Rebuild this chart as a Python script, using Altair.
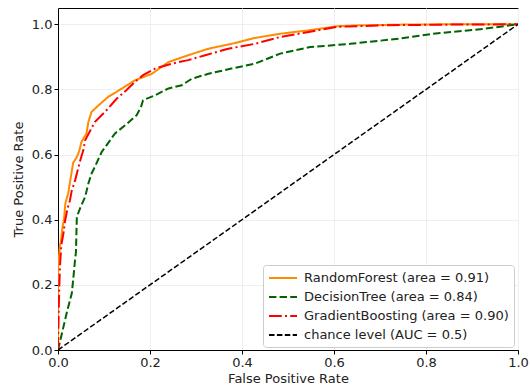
import altair as alt
import pandas as pd

# ---- data ----
rf_fpr = [0.0, 0.0, 0.004, 0.006, 0.010, 0.013, 0.016, 0.022, 0.026, 0.033, 0.040, 0.046, 0.051, 0.062, 0.066, 0.073, 0.088, 0.109, 0.138, 0.167, 0.204, 0.240, 0.283, 0.327, 0.377, 0.428, 0.483, 0.548, 0.606, 0.657, 0.750, 0.850, 1.0]
rf_tpr = [0.0, 0.25, 0.32, 0.33, 0.38, 0.40, 0.45, 0.48, 0.515, 0.575, 0.59, 0.61, 0.639, 0.665, 0.70, 0.731, 0.751, 0.777, 0.802, 0.828, 0.848, 0.884, 0.905, 0.925, 0.940, 0.958, 0.971, 0.982, 0.994, 0.997, 0.999, 1.0, 1.0]

dt_fpr = [0.0, 0.010, 0.020, 0.030, 0.034, 0.037, 0.039, 0.041, 0.048, 0.059, 0.066, 0.073, 0.080, 0.095, 0.124, 0.146, 0.171, 0.180, 0.185, 0.211, 0.240, 0.269, 0.291, 0.327, 0.377, 0.428, 0.483, 0.548, 0.635, 0.743, 0.816, 0.925, 1.0]
dt_tpr = [0.0, 0.06, 0.12, 0.174, 0.23, 0.276, 0.30, 0.409, 0.435, 0.470, 0.511, 0.542, 0.562, 0.608, 0.665, 0.690, 0.721, 0.745, 0.767, 0.782, 0.803, 0.813, 0.833, 0.848, 0.864, 0.879, 0.910, 0.930, 0.940, 0.956, 0.971, 0.986, 1.0]

gb_fpr = [0.0, 0.002, 0.004, 0.007, 0.012, 0.015, 0.020, 0.026, 0.030, 0.037, 0.048, 0.055, 0.059, 0.080, 0.102, 0.128, 0.149, 0.167, 0.185, 0.211, 0.247, 0.283, 0.320, 0.370, 0.428, 0.483, 0.548, 0.606, 0.710, 0.850, 1.0]
gb_tpr = [0.0, 0.15, 0.25, 0.32, 0.36, 0.393, 0.43, 0.46, 0.49, 0.52, 0.58, 0.613, 0.644, 0.700, 0.731, 0.772, 0.798, 0.823, 0.844, 0.864, 0.879, 0.890, 0.905, 0.925, 0.940, 0.961, 0.977, 0.992, 0.997, 0.999, 1.0]

chance_fpr = [0.0, 1.0]
chance_tpr = [0.0, 1.0]

series_names = [
    "RandomForest (area = 0.91)",
    "DecisionTree (area = 0.84)",
    "GradientBoosting (area = 0.90)",
    "chance level (AUC = 0.5)",
]
series_colors = ["#ff8c00", "#006400", "#ff0000", "#000000"]
series_dashes = [[1, 0], [7.4, 3.2], [12.8, 3.2, 2, 3.2], [5.5, 2.4]]
series_widths = [2, 2, 2, 1.5]
x_ticks = [0.0, 0.2, 0.4, 0.6, 0.8, 1.0]
y_ticks = [0.0, 0.2, 0.4, 0.6, 0.8, 1.0]

curves = [(rf_fpr, rf_tpr), (dt_fpr, dt_tpr), (gb_fpr, gb_tpr), (chance_fpr, chance_tpr)]
rows = []
for name, (fx, ty) in zip(series_names, curves):
    for i, (a, b) in enumerate(zip(fx, ty)):
        rows.append({"series": name, "fpr": a, "tpr": b, "idx": i})
df = pd.DataFrame(rows)

font = "DejaVu Sans"
fs = 13

x_enc = alt.X(
    "fpr:Q",
    scale=alt.Scale(domain=[0, 1], nice=False, zero=False),
    axis=alt.Axis(values=x_ticks, format=".1f", title="False Positive Rate",
                  labelFlush=False, labelOverlap=False),
)
y_enc = alt.Y(
    "tpr:Q",
    scale=alt.Scale(domain=[0, 1.05], nice=False, zero=False),
    axis=alt.Axis(values=y_ticks, format=".1f", title="True Positive Rate",
                  labelFlush=False, labelOverlap=False),
)
color_enc = alt.Color(
    "series:N",
    scale=alt.Scale(domain=series_names, range=series_colors),
    legend=alt.Legend(title=None),
)
dash_enc = alt.StrokeDash(
    "series:N",
    scale=alt.Scale(domain=series_names, range=series_dashes),
    legend=alt.Legend(title=None),
)

layers = []
for name, w in zip(series_names, series_widths):
    layers.append(
        alt.Chart(df)
        .transform_filter(alt.datum.series == name)
        .mark_line(strokeWidth=w, clip=True)
        .encode(x=x_enc, y=y_enc, color=color_enc, strokeDash=dash_enc, order="idx:Q")
    )

chart = (
    alt.layer(*layers)
    .properties(
        width=460,
        height=342,
        autosize=alt.AutoSizeParams(type="none"),
        padding={"left": 58, "top": 8, "right": 14, "bottom": 40},
    )
    .configure_view(stroke="black", strokeWidth=1)
    .configure_axis(
        labelFont=font,
        titleFont=font,
        labelFontSize=fs,
        titleFontSize=fs,
        titleFontWeight="normal",
        labelColor="#222222",
        titleColor="#222222",
        domainColor="black",
        tickColor="black",
        tickSize=4,
        labelPadding=2,
        gridColor="#eeeeee",
        gridWidth=1,
    )
    .configure_axisX(titlePadding=3)
    .configure_axisY(titlePadding=6)
    .configure_legend(
        orient="none",
        legendX=205,
        legendY=257,
        fillColor="white",
        strokeColor="#cccccc",
        cornerRadius=3,
        padding=5,
        labelFont=font,
        labelFontSize=fs,
        labelColor="#222222",
        symbolType="M-1,0L3,0",
        symbolSize=196,
        symbolStrokeWidth=2,
        rowPadding=4,
        labelOffset=20,
        labelLimit=300,
    )
)

chart.save("out.html", embed_options={"renderer": "svg", "actions": False})
